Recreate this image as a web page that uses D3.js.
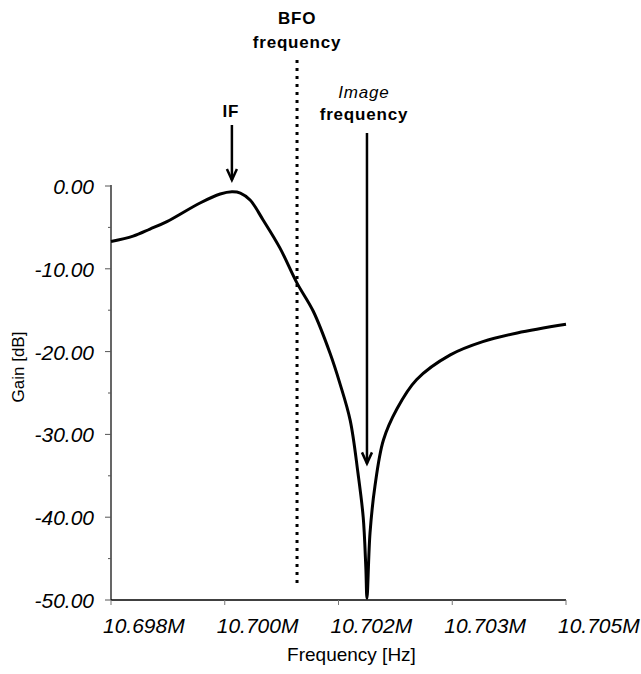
<!DOCTYPE html>
<html>
<head>
<meta charset="utf-8">
<script src="https://cdn.jsdelivr.net/npm/d3@7"></script>
<style>
  body { margin: 0; background: #fff; }
  text { font-family: "Liberation Sans", Arial, sans-serif; fill: #000; }
</style>
</head>
<body>
<script>
// data (frequency in Hz, gain in dB)
var freq = [10698000, 10698340, 10698600, 10698860, 10699370, 10699680, 10699860, 10699990,
            10700140, 10700340, 10700600, 10700860, 10701110, 10701370, 10701520, 10701680,
            10701800, 10701880, 10701920, 10701938, 10701985, 10702060, 10702190, 10702400,
            10702700, 10703220, 10703720, 10704250, 10705000];
var gain = [-6.7, -6.05, -5.2, -4.3, -2.05, -0.97, -0.7, -0.85,
            -1.7, -4.1, -7.5, -11.7, -15.1, -20.2, -23.8, -28.3,
            -34.7, -40.0, -46.0, -49.8, -41.9, -36.3, -30.7, -26.9,
            -23.4, -20.4, -18.8, -17.75, -16.7];

var xTickLabels = ["10.698M", "10.700M", "10.702M", "10.703M", "10.705M"];
var yTicks = [0, -10, -20, -30, -40, -50];

var ifFreq = 10699860, bfoFreq = 10700862, imageFreq = 10701938;

var margin = {top: 186, left: 111},
    width = 455, height = 414;

var svg = d3.select("body").append("svg")
    .attr("width", 641)
    .attr("height", 674);

var g = svg.append("g").attr("transform", "translate(" + margin.left + "," + margin.top + ")");

var x = d3.scaleLinear().domain([10698000, 10705000]).range([0, width]);
var y = d3.scaleLinear().domain([-50, 0]).range([height, 0]);

var xTickVals = xTickLabels.map(function(d, i) { return 10698000 + i * 1750; });

// y axis
g.append("line").attr("x1", 0).attr("x2", 0).attr("y1", -1).attr("y2", height)
    .attr("stroke", "#000").attr("stroke-width", 1.2);
g.selectAll(".ytick").data(d3.range(-50, 1, 5))
  .enter().append("line")
    .attr("class", "ytick")
    .attr("x1", function(d) { return d % 10 === 0 ? -6 : -3; })
    .attr("x2", 0)
    .attr("y1", function(d) { return y(d); })
    .attr("y2", function(d) { return y(d); })
    .attr("stroke", "#555").attr("stroke-width", 1);
g.selectAll(".ylab").data(yTicks)
  .enter().append("text")
    .attr("class", "ylab")
    .attr("x", -17)
    .attr("y", function(d) { return y(d) + 8; })
    .attr("text-anchor", "end")
    .style("font-size", "21px").style("font-style", "italic")
    .text(function(d) { return d.toFixed(2); });

// x axis
g.append("line").attr("x1", 0).attr("x2", width).attr("y1", height).attr("y2", height)
    .attr("stroke", "#000").attr("stroke-width", 1.5);
g.selectAll(".xtick").data(xTickVals)
  .enter().append("line")
    .attr("class", "xtick")
    .attr("x1", function(d) { return x(d); })
    .attr("x2", function(d) { return x(d); })
    .attr("y1", height).attr("y2", height + 5)
    .attr("stroke", "#777").attr("stroke-width", 1);
g.selectAll(".xlab").data(xTickVals)
  .enter().append("text")
    .attr("class", "xlab")
    .attr("x", function(d) { return x(d) - 8; })
    .attr("y", height + 33)
    .style("font-size", "21px").style("font-style", "italic")
    .text(function(d, i) { return xTickLabels[i]; });

// axis titles
g.append("text")
    .attr("x", x(10701700)).attr("y", height + 61)
    .attr("text-anchor", "middle")
    .style("font-size", "19px")
    .text("Frequency [Hz]");
svg.append("text")
    .attr("transform", "translate(24,367) rotate(-90)")
    .attr("text-anchor", "middle")
    .style("font-size", "17px")
    .text("Gain [dB]");

// BFO dotted line
g.append("line")
    .attr("x1", x(bfoFreq)).attr("x2", x(bfoFreq))
    .attr("y1", 60 - margin.top).attr("y2", height - 12)
    .attr("stroke", "#000").attr("stroke-width", 3)
    .attr("stroke-dasharray", "3,5");

// response curve
var line = d3.line()
    .x(function(d, i) { return x(freq[i]); })
    .y(function(d) { return y(d); })
    .curve(d3.curveCatmullRom.alpha(0.5));

g.append("path")
    .datum(gain)
    .attr("fill", "none")
    .attr("stroke", "#000")
    .attr("stroke-width", 3)
    .attr("d", line);

// annotations
function arrow(xp, y1, y2) {
  g.append("line").attr("x1", xp).attr("x2", xp).attr("y1", y1).attr("y2", y2)
      .attr("stroke", "#000").attr("stroke-width", 2.5);
  g.append("path")
      .attr("d", "M" + (xp - 5) + "," + (y2 - 11) + "L" + xp + "," + y2 + "L" + (xp + 5) + "," + (y2 - 11))
      .attr("fill", "none").attr("stroke", "#000").attr("stroke-width", 2.5);
}
arrow(x(ifFreq), 125 - margin.top, 180 - margin.top);
arrow(x(imageFreq), 133 - margin.top, y(-33.5));

function label(xp, yp, txt, bold, italic) {
  g.append("text")
      .attr("x", xp).attr("y", yp - margin.top)
      .attr("text-anchor", "middle")
      .style("font-size", "17px")
      .style("font-weight", bold ? "bold" : "normal")
      .style("font-style", italic ? "italic" : "normal")
      .style("letter-spacing", "0.8px")
      .text(txt);
}
label(x(bfoFreq), 24, "BFO", true);
label(x(bfoFreq), 48, "frequency", true);
label(x(ifFreq) - 1, 117, "IF", true);
label(x(imageFreq) - 3, 98, "Image", false, true);
label(x(imageFreq) - 3, 120, "frequency", true);
</script>
</body>
</html>
